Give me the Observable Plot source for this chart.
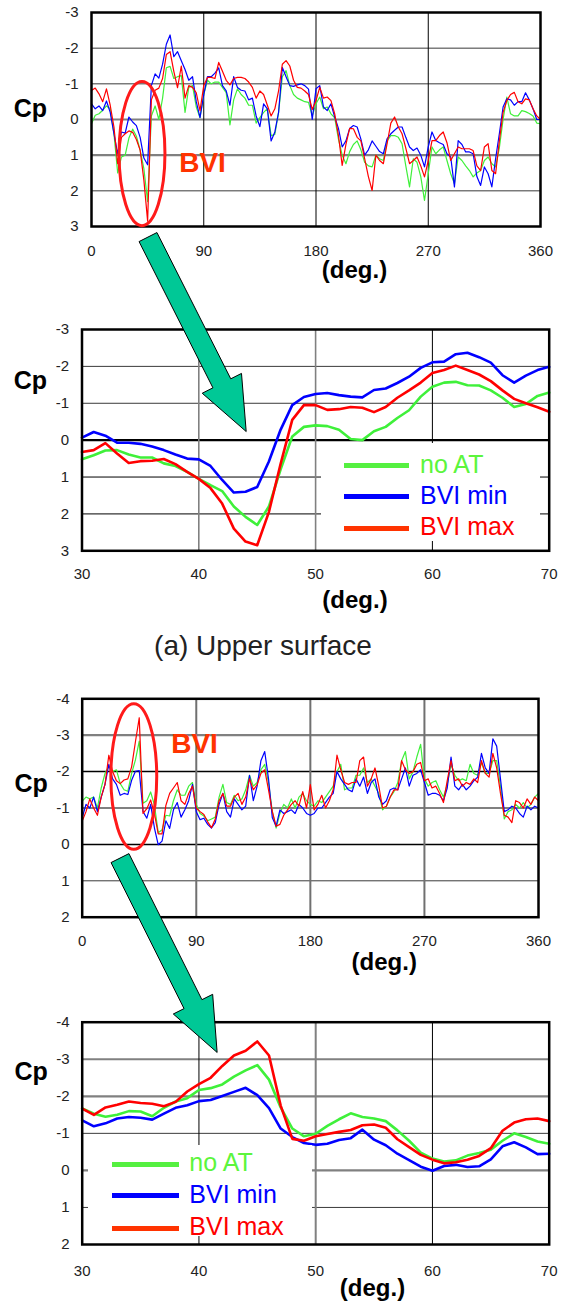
<!DOCTYPE html>
<html>
<head>
<meta charset="utf-8">
<script src="https://cdn.jsdelivr.net/npm/d3@7"></script>
<script src="https://cdn.jsdelivr.net/npm/@observablehq/plot@0.6"></script>
<style>
  body { margin: 0; background: #fff; }
  #page { position: relative; width: 564px; height: 1303px; overflow: hidden;
          font-family: "Liberation Sans", Arial, sans-serif; background: #fff; }
  .panel { position: absolute; left: 0; }
  .legend { position: absolute; background: #fff; }
  .legend .row { position: absolute; left: 0; right: 0; height: 30px; display: flex; align-items: center; }
  .legend .swatch { position: absolute; height: 5px; }
  .legend .label { position: absolute; font-size: 25px; line-height: 30px; top: -2px; }
  .caption { position: absolute; left: 0; width: 526px; text-align: center; font-size: 28px; color: #222; }
  #overlay { position: absolute; left: 0; top: 0; pointer-events: none; }
</style>
</head>
<body>
<div id="page"></div>
<script>
// Series names and colours (order: no AT, BVI min, BVI max)
const seriesNames = ["no AT", "BVI min", "BVI max"];
const seriesColors = ["#3ff03a", "#0000ff", "#ff0000"];
const legendSwatchColors = ["#55f040", "#0000ff", "#ff3300"];
const legendTextColors = ["#5cf53c", "#0000ff", "#ff0000"];

// ---- Upper surface, full revolution (azimuth in deg, every 3 deg) ----
const upperAzimuth = d3.range(0, 361, 3);
const upperNoAT = [
  0.12, -0.12, -0.16, -0.26, -0.38, -0.30, 0.40, 1.50, 1.05, 1.00,
  0.52, 0.27, 0.47, 0.86, 1.38, 2.30, -0.10, -0.38, 0.00, -0.60,
  -1.45, -1.49, -1.15, -1.20, -1.23, -0.20, -0.90, -0.95, -0.35, -0.05,
  -0.70, -1.10, -1.00, -1.05, -1.05, -0.90, -0.75, 0.15, -0.55, -0.86,
  -0.70, -0.60, -0.40, -0.40, 0.10, -0.05, -0.20, -0.30, 0.45, 0.42,
  -0.20, -1.20, -1.37, -0.95, -0.70, -0.60, -0.55, -0.50, -0.48, -0.10,
  -0.44, -0.63, -0.30, -0.35, -0.16, -0.05, 0.55, 1.00, 1.24, 0.90,
  0.70, 0.60, 0.85, 1.20, 1.30, 1.33, 1.00, 1.10, 1.15, 0.60,
  0.45, 0.45, 0.50, 0.68, 1.30, 1.89, 1.10, 1.20, 1.60, 2.27,
  1.52, 0.77, 0.96, 0.85, 0.77, 1.15, 1.52, 1.80, 1.05, 1.15,
  1.30, 1.43, 1.61, 1.50, 1.43, 1.15, 1.05, 1.24, 1.33, 0.80,
  0.00, -0.63, -0.16, -0.10, -0.10, -0.25, -0.22, -0.17, -0.10, 0.10, 0.12
];
const upperBVImin = [
  -0.44, -0.30, -0.38, -0.25, -0.52, -0.20, 0.40, 0.96, 0.35, 0.38,
  -0.07, 0.07, 0.17, 0.50, 1.08, 1.27, -0.95, -1.28, -1.16, -1.55,
  -2.11, -2.37, -1.76, -1.90, -1.65, -1.40, -1.10, -1.20, -0.50, -0.05,
  -0.70, -1.20, -1.20, -1.30, -1.45, -0.95, -0.80, -0.40, -1.20, -0.90,
  -0.82, -0.80, -0.55, -0.60, -0.10, 0.20, -0.44, -0.30, 0.60, 0.35,
  -0.20, -1.46, -1.20, -0.95, -0.93, -0.97, -1.00, -0.95, -0.85, 0.00,
  -0.86, -0.95, -0.35, -0.25, -0.44, -0.07, 0.25, 0.77, 0.60, 0.25,
  0.17, 0.21, 0.55, 1.00, 0.85, 0.60, 0.75, 0.90, 0.96, 0.54,
  0.40, 0.30, 0.21, 0.21, 0.50, 0.77, 0.87, 0.80, 1.00, 1.33,
  0.77, 0.35, 0.59, 0.65, 0.70, 0.96, 1.05, 1.89, 0.59, 0.70,
  0.91, 0.91, 0.96, 1.60, 1.85, 1.33, 1.52, 1.89, 1.10, 0.40,
  -0.35, -0.58, -0.55, -0.40, -0.50, -0.50, -0.75, -0.55, -0.30, 0.00, 0.00
];
const upperBVImax = [
  -0.81, -0.88, -0.72, -0.50, -0.86, -0.40, 0.21, 1.24, 0.50, 0.40,
  0.32, 0.36, 0.56, 0.86, 1.70, 2.85, -0.55, -0.82, -0.88, -1.15,
  -1.82, -1.90, -1.35, -0.89, -1.50, -0.60, -0.95, -0.90, -0.75, -0.25,
  -0.95, -1.18, -1.18, -1.15, -1.60, -1.35, -1.10, -0.97, -1.15, -1.18,
  -1.18, -1.15, -1.05, -0.90, -0.60, -0.80, -0.70, -0.40, -0.10, -0.30,
  -0.80, -1.55, -1.65, -1.50, -1.10, -0.90, -0.88, -0.80, -0.70, -0.28,
  -0.53, -0.90, -0.60, -0.63, -0.53, -0.16, 0.45, 1.29, 0.70, 0.25,
  0.26, 0.50, 0.60, 1.10, 1.60, 1.99, 1.00, 1.15, 1.24, 0.68,
  0.10, -0.07, 0.21, 0.40, 0.80, 1.24, 1.15, 1.05, 1.30, 1.61,
  1.15, 0.59, 0.59, 0.45, 0.35, 0.65, 1.15, 0.96, 0.77, 0.82,
  0.82, 0.82, 0.87, 1.30, 1.43, 0.77, 0.68, 1.43, 1.52, 0.60,
  -0.20, -0.53, -0.70, -0.76, -0.50, -0.44, -0.58, -0.55, -0.30, -0.10, 0.00
];

// ---- Upper surface, 30-70 deg detail (every 1 deg) ----
const upperZoomAzimuth = d3.range(30, 71, 1);
const upperZoomNoAT = [
  0.52, 0.41, 0.28, 0.27, 0.39, 0.47, 0.47, 0.63, 0.70, 0.86,
  1.05, 1.22, 1.38, 1.80, 2.08, 2.30, 1.80, 0.80, -0.10, -0.36,
  -0.40, -0.38, -0.28, -0.03, 0.00, -0.24, -0.36, -0.60, -0.81, -1.18,
  -1.45, -1.56, -1.58, -1.49, -1.48, -1.35, -1.15, -0.90, -0.98, -1.20, -1.29
];
const upperZoomBVImin = [
  -0.07, -0.22, -0.12, 0.07, 0.07, 0.10, 0.17, 0.27, 0.39, 0.50,
  0.52, 0.70, 1.08, 1.42, 1.40, 1.27, 0.58, -0.28, -0.95, -1.17,
  -1.25, -1.28, -1.22, -1.18, -1.16, -1.36, -1.40, -1.55, -1.72, -1.96,
  -2.11, -2.13, -2.33, -2.37, -2.25, -2.10, -1.76, -1.56, -1.75, -1.90, -1.99
];
const upperZoomBVImax = [
  0.32, 0.27, 0.08, 0.36, 0.62, 0.57, 0.56, 0.51, 0.65, 0.86,
  1.05, 1.30, 1.72, 2.40, 2.75, 2.85, 1.95, 0.65, -0.55, -0.95,
  -0.95, -0.82, -0.84, -0.90, -0.88, -0.76, -0.90, -1.15, -1.35, -1.56,
  -1.82, -1.90, -2.02, -1.90, -1.78, -1.60, -1.35, -1.12, -1.00, -0.89, -0.77
];

// ---- Lower surface, full revolution (every 3 deg) ----
const lowerAzimuth = d3.range(0, 361, 3);
const lowerNoAT = [
  -1.19, -1.30, -1.25, -1.30, -1.00, -1.55, -1.95, -2.15, -2.00, -2.05,
  -1.67, -1.50, -1.46, -1.95, -2.32, -2.84, -1.13, -1.20, -1.44, -1.08,
  -0.32, -0.40, -0.80, -0.78, -1.20, -1.50, -1.35, -1.35, -1.60, -1.70,
  -1.10, -0.85, -0.78, -0.65, -0.70, -0.75, -1.30, -1.65, -1.15, -1.10,
  -1.35, -1.20, -1.25, -1.50, -1.90, -1.60, -1.70, -2.05, -2.20, -1.70,
  -0.90, -0.45, -0.85, -1.10, -1.00, -1.25, -1.00, -1.30, -1.40, -1.20,
  -1.10, -1.05, -1.20, -1.15, -1.30, -1.45, -1.60, -2.00, -2.20, -1.50,
  -1.55, -1.55, -1.90, -1.90, -2.10, -1.70, -1.80, -1.60, -1.40, -0.95,
  -1.05, -1.30, -1.45, -1.70, -2.30, -2.55, -1.80, -2.00, -2.40, -2.75,
  -1.80, -1.60, -1.70, -1.75, -1.50, -1.30, -1.65, -2.20, -1.90, -1.75,
  -1.80, -1.75, -2.20, -1.95, -1.90, -2.25, -1.95, -1.95, -2.30, -2.30,
  -1.60, -0.70, -0.90, -0.95, -1.10, -1.00, -1.15, -1.00, -1.10, -1.30, -1.40
];
const lowerBVImin = [
  -0.73, -1.10, -1.00, -1.30, -0.90, -1.30, -1.65, -2.20, -1.80, -1.65,
  -1.35, -1.40, -1.37, -1.76, -2.01, -2.03, -0.90, -0.72, -1.10, -0.45,
  0.01, -0.09, -0.65, -0.44, -0.95, -1.15, -0.75, -0.95, -1.20, -1.65,
  -0.90, -0.68, -0.72, -0.55, -0.45, -0.60, -1.10, -1.40, -0.90, -0.75,
  -1.25, -1.10, -0.95, -1.05, -1.90, -1.20, -1.60, -2.30, -2.55, -1.80,
  -0.73, -0.50, -0.95, -0.85, -0.90, -0.95, -0.85, -1.10, -1.00, -0.85,
  -0.80, -0.85, -1.00, -1.00, -1.15, -1.30, -1.40, -2.00, -1.80, -1.65,
  -1.50, -1.45, -1.80, -1.60, -1.85, -1.40, -1.70, -1.80, -1.30, -1.10,
  -1.20, -1.50, -1.55, -1.50, -1.80, -2.10, -1.60, -1.90, -1.95, -2.05,
  -1.70, -1.35, -1.40, -1.40, -1.35, -1.20, -1.55, -2.40, -1.60, -1.50,
  -1.65, -1.50, -1.60, -1.75, -1.85, -2.50, -2.10, -1.95, -2.90, -2.70,
  -1.80, -0.90, -0.95, -1.05, -1.00, -0.85, -0.75, -1.05, -0.95, -1.05, -1.00
];
const lowerBVImax = [
  -0.64, -0.90, -1.25, -1.00, -0.80, -1.30, -1.65, -2.45, -2.00, -1.75,
  -1.67, -1.77, -1.80, -2.13, -2.82, -3.48, -0.85, -0.98, -1.22, -0.84,
  -0.29, -0.29, -1.07, -1.40, -1.55, -1.70, -1.20, -1.10, -1.40, -1.60,
  -1.00, -0.90, -0.82, -0.62, -0.46, -0.70, -1.20, -1.40, -1.05, -1.05,
  -1.30, -1.40, -1.10, -1.30, -1.80, -1.50, -1.64, -1.95, -2.05, -1.50,
  -0.90, -0.50, -0.55, -0.80, -0.95, -1.10, -1.20, -1.05, -1.45, -1.00,
  -1.64, -0.95, -1.10, -1.35, -1.00, -1.20, -1.50, -2.45, -2.05, -1.70,
  -1.65, -1.70, -1.70, -2.30, -2.40, -1.60, -1.80, -2.10, -1.60, -1.00,
  -1.05, -1.30, -1.50, -1.50, -2.30, -2.05, -1.95, -2.00, -2.20, -2.25,
  -1.75, -1.80, -1.55, -1.60, -1.40, -1.15, -1.75, -2.30, -1.75, -1.80,
  -1.60, -1.70, -1.65, -1.80, -1.70, -2.30, -1.95, -1.85, -2.50, -2.10,
  -1.40, -0.80, -0.75, -0.60, -1.20, -1.15, -1.00, -1.25, -1.10, -1.30, -1.20
];

// ---- Lower surface, 30-70 deg detail (every 1 deg) ----
const lowerZoomAzimuth = d3.range(30, 71, 1);
const lowerZoomNoAT = [
  -1.67, -1.53, -1.45, -1.50, -1.60, -1.59, -1.46, -1.69, -1.86, -1.95,
  -2.17, -2.22, -2.32, -2.53, -2.70, -2.84, -2.45, -1.70, -1.13, -0.92,
  -0.99, -1.20, -1.38, -1.54, -1.44, -1.40, -1.33, -1.08, -0.80, -0.48,
  -0.32, -0.24, -0.27, -0.40, -0.47, -0.56, -0.80, -1.00, -0.90, -0.78, -0.72
];
const lowerZoomBVImin = [
  -1.35, -1.19, -1.27, -1.40, -1.44, -1.42, -1.37, -1.53, -1.69, -1.76,
  -1.87, -1.90, -2.01, -2.12, -2.23, -2.03, -1.68, -1.13, -0.90, -0.74,
  -0.69, -0.72, -0.82, -0.87, -1.10, -0.83, -0.68, -0.45, -0.28, -0.10,
  0.01, -0.12, -0.15, -0.09, -0.11, -0.30, -0.65, -0.76, -0.62, -0.44, -0.45
];
const lowerZoomBVImax = [
  -1.67, -1.50, -1.70, -1.77, -1.86, -1.82, -1.80, -1.73, -1.85, -2.13,
  -2.33, -2.50, -2.82, -3.10, -3.23, -3.48, -3.10, -1.75, -0.85, -0.80,
  -0.92, -0.98, -1.04, -1.09, -1.22, -1.24, -1.15, -0.84, -0.63, -0.42,
  -0.29, -0.19, -0.22, -0.29, -0.39, -0.60, -1.07, -1.29, -1.38, -1.40, -1.33
];

// Tick values
const fullTicks = [0, 90, 180, 270, 360];
const zoomTicks = [30, 40, 50, 60, 70];
const upperCpTicks = [-3, -2, -1, 0, 1, 2, 3];
const lowerCpTicks = [-4, -3, -2, -1, 0, 1, 2];

// BVI call-outs (label position and ring, in each panel's data units)
const bviCallouts = [
  { panel: "upperFull", x: 70.3, y: 1.48, text: "BVI", ring: { cx: 40.9, cy: 0.97, rx: 18.4, ry: 2.02 } },
  { panel: "lowerFull", x: 70.2, y: -2.52, text: "BVI", ring: { cx: 41.1, cy: -1.85, rx: 18.1, ry: 2.0 } }
];
// Arrows from the full-revolution panels to their 30-70 deg details
const zoomArrows = [
  { from: { panel: "upperFull", x: 45.7, y: 3.31 }, to: { panel: "upperZoom", x: 44.1, y: -0.22 } },
  { from: { panel: "lowerFull", x: 30.2, y: 0.39 }, to: { panel: "lowerZoom", x: 41.6, y: -3.17 } }
];

// Panel layout and styling
const heavyGray = "#808080", thinDark = "#3a3a3a";
const panels = [
  {
    id: "upperFull", top: 0, height: 285,
    margin: { top: 12, right: 24, bottom: 59, left: 91 },
    xDomain: [0, 360], yDomain: [-3, 3], xTicks: fullTicks, yTicks: upperCpTicks,
    azimuth: upperAzimuth, series: [upperNoAT, upperBVImin, upperBVImax], lineWidth: 1.2,
    gridY: [{ at: [-2, -1, 2], stroke: thinDark, width: 1 }, { at: [0, 1], stroke: heavyGray, width: 2.2 }],
    gridX: [{ at: [90, 180, 270], stroke: "#000", width: 1 }],
    xPad: 19, yPad: 13, cp: { dx: -77.7, dy: -3 }, deg: { dx: 38.5, dy: 51.5 }
  },
  {
    id: "upperZoom", top: 300, height: 310,
    margin: { top: 29, right: 15.3, bottom: 59.7, left: 81.5 },
    xDomain: [30, 70], yDomain: [-3, 3], xTicks: zoomTicks, yTicks: upperCpTicks,
    azimuth: upperZoomAzimuth, series: [upperZoomNoAT, upperZoomBVImin, upperZoomBVImax], lineWidth: 2.6,
    gridY: [{ at: [-2, -1], stroke: thinDark, width: 1 }, { at: [1, 2], stroke: "#000", width: 1 }, { at: [0], stroke: "#000", width: 2.2 }],
    gridX: [{ at: [40, 50], stroke: heavyGray, width: 1.6 }, { at: [60], stroke: "#000", width: 1 }],
    xPad: 18, yPad: 13, cp: { dx: -68.2, dy: -51.4 }, deg: { dx: 39.4, dy: 57.2 },
    legend: { left: 321, top: 443, width: 219, height: 98, rows: [22.7, 53.7, 85.3], swatchLeft: 22.7, swatchWidth: 65, textLeft: 99 }
  },
  {
    id: "lowerFull", top: 680, height: 295,
    margin: { top: 18.3, right: 26, bottom: 58.3, left: 81.7 },
    xDomain: [0, 360], yDomain: [-4, 2], xTicks: fullTicks, yTicks: lowerCpTicks,
    azimuth: lowerAzimuth, series: [lowerNoAT, lowerBVImin, lowerBVImax], lineWidth: 1.2,
    gridY: [{ at: [1], stroke: thinDark, width: 1 }, { at: [-3, -1], stroke: heavyGray, width: 2.2 }, { at: [-2, 0], stroke: "#000", width: 1.5 }],
    gridX: [{ at: [90, 180, 270], stroke: "#707070", width: 2 }],
    xPad: 18.5, yPad: 12.7, cp: { dx: -67.7, dy: -15.8 }, deg: { dx: 73.9, dy: 52.5 }
  },
  {
    id: "lowerZoom", top: 1000, height: 303,
    margin: { top: 21.7, right: 15.3, bottom: 59, left: 81.7 },
    xDomain: [30, 70], yDomain: [-4, 2], xTicks: zoomTicks, yTicks: lowerCpTicks,
    azimuth: lowerZoomAzimuth, series: [lowerZoomNoAT, lowerZoomBVImin, lowerZoomBVImax], lineWidth: 2.6,
    gridY: [{ at: [-1, 1], stroke: thinDark, width: 1 }, { at: [-3, -2, 0], stroke: heavyGray, width: 2.2 }],
    gridX: [{ at: [40, 60], stroke: "#000", width: 1 }, { at: [50], stroke: heavyGray, width: 2 }],
    xPad: 21, yPad: 12.7, cp: { dx: -67.7, dy: -52.9 }, deg: { dx: 56.8, dy: 51.5 },
    legend: { left: 88, top: 1145, width: 224, height: 91, rows: [19, 50.7, 83.3], swatchLeft: 24.3, swatchWidth: 66.7, textLeft: 101.3 }
  }
];

const page = document.getElementById("page");
const fmt = d => `${d}`;
const charts = {};

function drawPanel(p) {
  const marks = [];
  for (const g of p.gridY) marks.push(Plot.ruleY(g.at, { stroke: g.stroke, strokeWidth: g.width }));
  for (const g of p.gridX) marks.push(Plot.ruleX(g.at, { stroke: g.stroke, strokeWidth: g.width }));
  p.series.forEach((values, i) =>
    marks.push(Plot.lineY(values, { x: p.azimuth, stroke: seriesColors[i], strokeWidth: p.lineWidth }))
  );
  marks.push(Plot.axisX(p.xTicks, { tickSize: 0, tickPadding: p.xPad, tickFormat: fmt, label: null, fill: "#222" }));
  marks.push(Plot.axisY(p.yTicks, { tickSize: 0, tickPadding: p.yPad, tickFormat: fmt, label: null, fill: "#222" }));
  marks.push(Plot.text(["Cp"], {
    frameAnchor: "left", textAnchor: "start", lineAnchor: "bottom",
    dx: p.cp.dx, dy: p.cp.dy, fontSize: 25, fontWeight: "bold", fill: "#000"
  }));
  marks.push(Plot.text(["(deg.)"], {
    frameAnchor: "bottom", textAnchor: "middle", lineAnchor: "bottom",
    dx: p.deg.dx, dy: p.deg.dy, fontSize: 24, fontWeight: "bold", fill: "#000"
  }));
  const callouts = bviCallouts.filter(c => c.panel === p.id);
  if (callouts.length) {
    marks.push(Plot.text(callouts, {
      x: "x", y: "y", text: "text", textAnchor: "start", lineAnchor: "bottom",
      fontSize: 28, fontWeight: "bold", fill: "#ff3300"
    }));
  }
  marks.push(Plot.frame({ stroke: "#000", strokeWidth: 2.5 }));

  const chart = Plot.plot({
    width: 564, height: p.height,
    marginTop: p.margin.top, marginRight: p.margin.right,
    marginBottom: p.margin.bottom, marginLeft: p.margin.left,
    x: { domain: p.xDomain },
    y: { domain: p.yDomain, reverse: true },
    style: { fontFamily: "'Liberation Sans', Arial, sans-serif", fontSize: "15px", color: "#222", background: "transparent", overflow: "visible" },
    marks
  });
  chart.classList.add("panel");
  chart.style.top = p.top + "px";
  page.appendChild(chart);
  charts[p.id] = { chart, top: p.top };

  if (p.legend) {
    const L = p.legend;
    const box = document.createElement("div");
    box.className = "legend";
    Object.assign(box.style, { left: L.left + "px", top: L.top + "px", width: L.width + "px", height: L.height + "px" });
    seriesNames.forEach((name, i) => {
      const row = document.createElement("div");
      row.className = "row";
      row.style.top = (L.rows[i] - 15) + "px";
      const sw = document.createElement("span");
      sw.className = "swatch";
      Object.assign(sw.style, { left: L.swatchLeft + "px", width: L.swatchWidth + "px", background: legendSwatchColors[i], top: "12.5px" });
      const tx = document.createElement("span");
      tx.className = "label";
      tx.textContent = name;
      Object.assign(tx.style, { left: L.textLeft + "px", color: legendTextColors[i] });
      row.appendChild(sw);
      row.appendChild(tx);
      box.appendChild(row);
    });
    page.appendChild(box);
  }
}

panels.forEach(drawPanel);

// Caption between the two upper-surface panels
const caption = document.createElement("div");
caption.className = "caption";
caption.style.top = "630px";
caption.textContent = "(a) Upper surface";
page.appendChild(caption);

// Page-level overlay: BVI rings and zoom arrows, placed through each panel's scales
function toPage(ref) {
  const c = charts[ref.panel];
  return [c.chart.scale("x").apply(ref.x), c.top + c.chart.scale("y").apply(ref.y)];
}
const overlay = d3.select(page).append("svg")
  .attr("id", "overlay").attr("width", 564).attr("height", 1303);

for (const c of bviCallouts) {
  const r = c.ring;
  const [cx, cy] = toPage({ panel: c.panel, x: r.cx, y: r.cy });
  const [ex] = toPage({ panel: c.panel, x: r.cx + r.rx, y: r.cy });
  const [, ey] = toPage({ panel: c.panel, x: r.cx, y: r.cy + r.ry });
  overlay.append("ellipse")
    .attr("cx", cx).attr("cy", cy)
    .attr("rx", Math.abs(ex - cx)).attr("ry", Math.abs(ey - cy))
    .attr("fill", "none").attr("stroke", "#ff1a1a").attr("stroke-width", 3);
}

const shaftHalf = 10, headHalf = 22, headLength = 54;
for (const a of zoomArrows) {
  const [tx, ty] = toPage(a.from);
  const [px, py] = toPage(a.to);
  const len = Math.hypot(px - tx, py - ty);
  const ux = (px - tx) / len, uy = (py - ty) / len;
  const nx = -uy, ny = ux;
  const bx = px - ux * headLength, by = py - uy * headLength;
  const pts = [
    [tx + nx * shaftHalf, ty + ny * shaftHalf],
    [bx + nx * shaftHalf, by + ny * shaftHalf],
    [bx + nx * headHalf, by + ny * headHalf],
    [px, py],
    [bx - nx * headHalf, by - ny * headHalf],
    [bx - nx * shaftHalf, by - ny * shaftHalf],
    [tx - nx * shaftHalf, ty - ny * shaftHalf]
  ];
  overlay.append("polygon")
    .attr("points", pts.map(p => p.join(",")).join(" "))
    .attr("fill", "#00c896").attr("stroke", "#000").attr("stroke-width", 1)
    .attr("stroke-linejoin", "miter");
}
</script>
</body>
</html>
